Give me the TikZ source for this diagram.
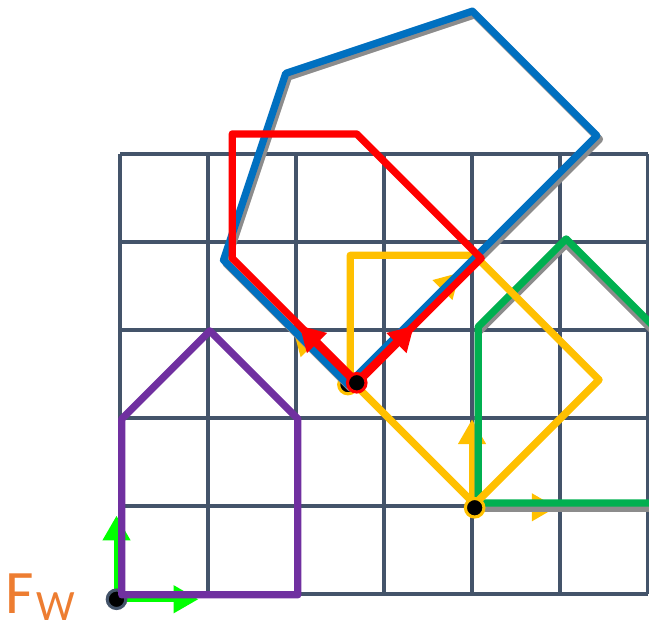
\documentclass[tikz,border=0pt]{standalone}
\usepackage{fontspec}
\setmainfont{Carlito}
\usetikzlibrary{arrows.meta}
\definecolor{gridslate}{HTML}{44546A}
\definecolor{housepurple}{HTML}{7030A0}
\definecolor{housegreen}{HTML}{00B050}
\definecolor{axisgreen}{HTML}{00FF00}
\definecolor{houseyellow}{HTML}{FFC000}
\definecolor{housered}{HTML}{FF0000}
\definecolor{houseblue}{HTML}{0070C0}
\definecolor{labelorange}{HTML}{ED7D31}
\newcommand{\housepath}{(0,0) -- (2,0) -- (2,2) -- (1,3) -- (0,2) -- cycle}

\begin{document}
\begin{tikzpicture}[
    x=1cm, y=1cm,
    gridline/.style={draw=gridslate, line width=1.05pt},
    house/.style={line width=2.35pt, line join=round},
    houseshadow/.style={house, draw=black!45},
    axis/.style={line width=1.8pt, -{Triangle[length=8pt, width=8.6pt]}},
    framedot/.style={circle, fill=black, inner sep=0pt, minimum size=6pt, line width=1pt},
    flabel/.style={font=\fontsize{20}{20}\selectfont, text=labelorange, inner sep=0pt}
]

\useasboundingbox (-1.364,-0.386) rectangle (6.011,6.75);
\clip (-1.364,-0.386) rectangle (6.011,6.75);

% grid
\draw[gridline] (0,0) grid (6,5);

% world frame and its house
\coordinate (ow) at (-0.04,-0.06);
\draw[axis, draw=axisgreen] (ow) -- ++(0.93,0);
\draw[axis, draw=axisgreen] (ow) -- ++(0,0.95);
\node[framedot, draw=gridslate] (dotw) at (ow) {};
\draw[house, draw=housepurple, shift={(0.02,-0.01)}] \housepath;

% translated frame
\coordinate (ot) at (4.0,0.985);
\draw[axis, draw=houseyellow] (ot) -- ++(0.96,0);
\draw[axis, draw=houseyellow] (ot) -- ++(0,1.0);
\draw[houseshadow, shift={(4.07,0.975)}] \housepath;
\draw[house, draw=housegreen, shift={(4.07,1.035)}] \housepath;

% rotated house
\draw[house, draw=houseyellow, shift={(4.03,1.02)}, rotate=45] \housepath;
\node[framedot, draw=houseyellow] (dott) at (4.03,0.98) {};

% scaled frame
\coordinate (os) at (2.59,2.38);
\begin{scope}[shift={(os)}, rotate=45]
  \draw[axis, draw=houseyellow] (0,0) -- (1.8,0);
  \draw[axis, draw=houseyellow] (0,0) -- (0,0.88);
\end{scope}
\node[framedot, draw=houseyellow] (dots) at (os) {};
\draw[houseshadow, shift={(2.62,2.34)}, rotate=45, xscale=2] \housepath;
\draw[house, draw=houseblue, shift={(os)}, rotate=45, xscale=2] \housepath;

% red frame
\coordinate (or) at (2.69,2.40);
\begin{scope}[shift={(or)}, rotate=45]
  \draw[axis, draw=housered, line width=2.8pt] (0,0) -- (0.92,0);
  \draw[axis, draw=housered, line width=2.8pt] (0,0) -- (0,0.92);
\end{scope}
\draw[house, draw=housered, shift={(or)}, rotate=45] \housepath;
\node[framedot, draw=housered] (dotr) at (or) {};

% label
\node[flabel, anchor=base west] (fw) at (-1.31,-0.22) {F\kern0.8pt\raisebox{-2.2pt}[\height][0pt]{\fontsize{14}{14}\selectfont W}};

\end{tikzpicture}
\end{document}
